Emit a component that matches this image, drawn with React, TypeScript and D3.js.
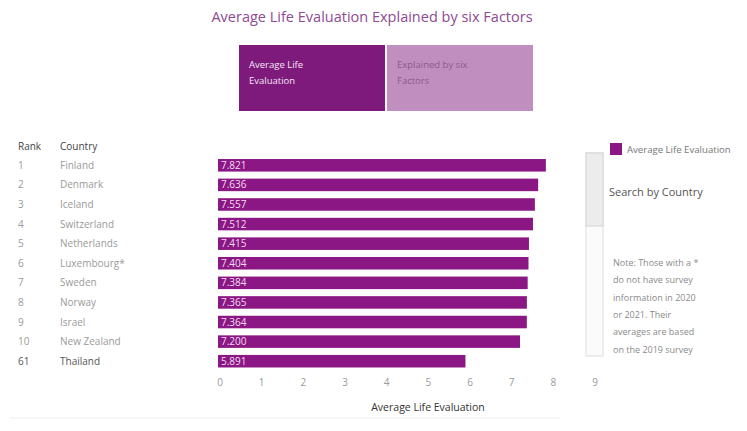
import * as d3 from "d3";
import { useEffect, useRef } from "react";

const ranks = ["1", "2", "3", "4", "5", "6", "7", "8", "9", "10", "61"];
const countries = [
  "Finland", "Denmark", "Iceland", "Switzerland", "Netherlands", "Luxembourg*",
  "Sweden", "Norway", "Israel", "New Zealand", "Thailand",
];
const scores = [7.821, 7.636, 7.557, 7.512, 7.415, 7.404, 7.384, 7.365, 7.364, 7.2, 5.891];
const xTicks = [0, 1, 2, 3, 4, 5, 6, 7, 8, 9];
const noteLines = [
  "Note: Those with a *",
  "do not have survey",
  "information in 2020",
  "or 2021. Their",
  "averages are based",
  "on the 2019 survey",
];

const W = 747, H = 431;
const FONT = "'Open Sans', 'DejaVu Sans', sans-serif";
const BAR = "#8a1783";

const App = () => {
  const ref: any = useRef();

  useEffect(() => {
    const svg = d3.select(ref.current);
    svg.selectAll("*").remove();
    svg.attr("font-family", FONT);

    // title
    svg.append("text")
      .attr("x", 372).attr("y", 22)
      .attr("text-anchor", "middle")
      .attr("font-size", 14.5)
      .attr("fill", "#8e4a92")
      .text("Average Life Evaluation Explained by six Factors");

    // toggle buttons
    const btns = [
      { x: 239, fill: "#7e1a7c", color: "#f5e6f5", lines: ["Average Life", "Evaluation"] },
      { x: 387, fill: "#c08fc0", color: "#8c5a8c", lines: ["Explained by six", "Factors"] },
    ];
    btns.forEach((b) => {
      svg.append("rect").attr("x", b.x).attr("y", 45).attr("width", 146).attr("height", 66).attr("fill", b.fill);
      b.lines.forEach((l, i) => {
        svg.append("text").attr("x", b.x + 10).attr("y", 68 + i * 16)
          .attr("font-size", 9.5).attr("fill", b.color).text(l);
      });
    });

    // scales
    const x = d3.scaleLinear().domain([0, 9]).range([220, 595]);
    const y = d3.scaleBand().domain(countries).range([155.5, 371]).paddingInner(0.36).paddingOuter(0.18);

    // headers
    svg.append("text").attr("x", 18).attr("y", 150).attr("font-size", 10).attr("fill", "#444").text("Rank");
    svg.append("text").attr("x", 60).attr("y", 150).attr("font-size", 10).attr("fill", "#444").text("Country");

    const rows = svg.append("g");
    countries.forEach((c, i) => {
      const cy = (y(c) as number) + y.bandwidth() / 2 + 3.5;
      const col = i === countries.length - 1 ? "#555" : "#9a9a9a";
      rows.append("text").attr("x", 18).attr("y", cy).attr("font-size", 10).attr("fill", col).text(ranks[i]);
      rows.append("text").attr("x", 60).attr("y", cy).attr("font-size", 10).attr("fill", col).text(c);
    });

    // bars
    const bars = svg.append("g");
    bars.selectAll("rect")
      .data(scores)
      .join("rect")
      .attr("x", x(0) - 2)
      .attr("y", (_d, i) => y(countries[i]) as number)
      .attr("width", (d) => x(d) - x(0) + 2)
      .attr("height", y.bandwidth())
      .attr("fill", BAR);
    bars.selectAll("text")
      .data(scores)
      .join("text")
      .attr("x", x(0) + 1)
      .attr("y", (_d, i) => (y(countries[i]) as number) + y.bandwidth() / 2 + 3.5)
      .attr("font-size", 10)
      .attr("fill", "#f4dcf2")
      .text((d) => d3.format(".3f")(d));

    // x axis labels
    svg.append("g").selectAll("text")
      .data(xTicks)
      .join("text")
      .attr("x", (d) => x(d))
      .attr("y", 386)
      .attr("text-anchor", "middle")
      .attr("font-size", 10)
      .attr("fill", "#9a9a9a")
      .text((d) => d);
    svg.append("text").attr("x", 428).attr("y", 411).attr("text-anchor", "middle")
      .attr("font-size", 10.5).attr("fill", "#333").text("Average Life Evaluation");
    svg.append("line").attr("x1", 10).attr("x2", 560).attr("y1", 418).attr("y2", 418)
      .attr("stroke", "#eee");

    // scrollbar
    svg.append("rect").attr("x", 586).attr("y", 153).attr("width", 17).attr("height", 203)
      .attr("fill", "#fbfbfb").attr("stroke", "#ddd");
    svg.append("rect").attr("x", 586).attr("y", 153).attr("width", 17).attr("height", 73)
      .attr("fill", "#ececec").attr("stroke", "#d4d4d4");

    // legend
    svg.append("rect").attr("x", 610).attr("y", 143).attr("width", 12).attr("height", 12).attr("fill", BAR);
    svg.append("text").attr("x", 627).attr("y", 153).attr("font-size", 9.6).attr("fill", "#777")
      .text("Average Life Evaluation");

    svg.append("text").attr("x", 609).attr("y", 196).attr("font-size", 11).attr("fill", "#555")
      .text("Search by Country");

    noteLines.forEach((l, i) => {
      svg.append("text").attr("x", 613).attr("y", 266 + i * 17.3).attr("font-size", 9)
        .attr("fill", "#8a8a8a").text(l);
    });
  }, []);

  return (
    <svg
      ref={ref}
      width={W}
      height={H}
      style={{ position: "absolute", left: 0, top: 0, background: "#fff" }}
    />
  );
};

export default App;
